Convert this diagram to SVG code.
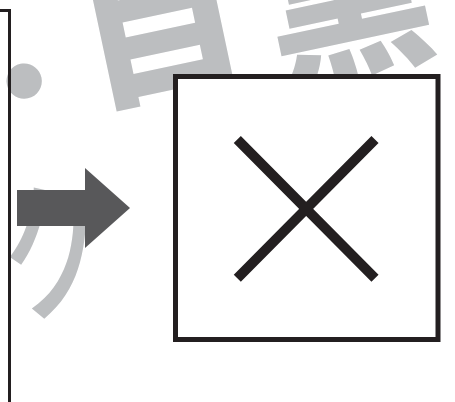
<svg xmlns="http://www.w3.org/2000/svg" width="455" height="402" viewBox="0 0 455 402">
  <style>
    .wm { fill: #bcbec0; font-family: "Noto Sans CJK JP", sans-serif; font-size: 165px; text-anchor: middle; }
    .b { font-weight: 900; }
    .ink { fill: none; stroke: #231f20; }
  </style>
  <rect width="455" height="402" fill="#ffffff"/>
  <g id="watermark">
    <g transform="translate(23,76) rotate(-12)">
      <text class="wm b" x="0" y="53" style="font-size:126px">・</text>
      <text class="wm b" x="145" y="41">目</text>
      <text class="wm b" x="332" y="57">黒</text>
    </g>
    <g transform="translate(54,250) rotate(-12) scale(0.72,1)">
      <text class="wm" x="0" y="57" style="font-size:150px;font-weight:500">ク</text>
    </g>
  </g>
  <g id="left-frame">
    <path class="ink" stroke-width="3" d="M0,10.5 H9.5 V402"/>
  </g>
  <g id="connectors">
    <polygon fill="#58585a" points="17,190 85,190 85,168 130,208 85,248 85,226 17,226"/>
  </g>
  <g id="box">
    <rect x="175.5" y="76.5" width="262.5" height="263" fill="#ffffff" stroke="#231f20" stroke-width="5"/>
    <path class="ink" stroke-width="10" d="M237.3,139.5 L375,278.3 M375,139.5 L237.3,278.3"/>
  </g>
</svg>
